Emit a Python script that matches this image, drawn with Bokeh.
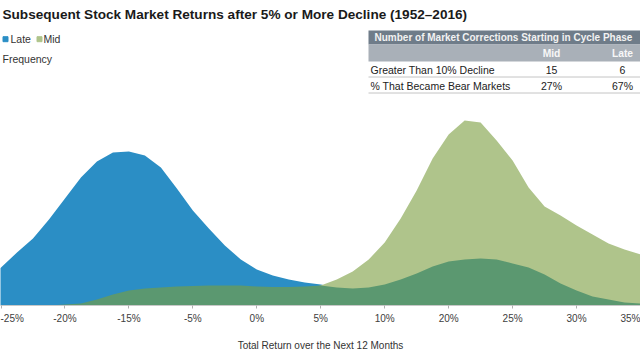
from bokeh.plotting import figure
from bokeh.models import Range1d, FixedTicker, Label
from bokeh.embed import file_html
from bokeh.resources import INLINE

# ---------------- data ----------------
tick_labels = ["-25%", "-20%", "-15%", "-5%", "0%", "5%", "10%", "20%", "25%", "30%", "35%"]

# positions along the return axis (in tick-slot units)
positions = [-0.25, 0.0, 0.25, 0.5, 0.75, 1.0, 1.25, 1.5, 1.75, 2.0, 2.25, 2.5, 2.75,
             3.0, 3.25, 3.5, 3.75, 4.0, 4.25, 4.5, 4.75, 5.0, 5.25, 5.5, 5.75,
             6.0, 6.25, 6.5, 6.75, 7.0, 7.25, 7.5, 7.75, 8.0, 8.25, 8.5, 8.75,
             9.0, 9.25, 9.5, 9.75, 10.0, 10.25]

late_freq = [25, 38, 53, 67, 86, 107, 128, 144, 153, 154, 150, 138, 117, 95, 77, 60,
             46, 36, 30, 26, 23, 21, 18, 14, 10, 7, 5, 3, 2, 1,
             0, 0, 0, 0, 0, 0, 0, 0, 0, 0, 0, 0, 0]

mid_freq = [0, 0, 0, 0, 0, 0, 0, 0, 0, 0, 0, 0,
            1, 2, 3, 4.5, 6, 8, 10, 13, 16, 20, 26, 34, 46, 63, 87, 115, 147, 171,
            185, 183, 165, 145, 118, 99, 90, 80, 71, 62, 56, 51, 47]

early_freq = [0, 0, 0, 0, 0,
              1, 2, 6, 11, 15, 17, 18, 19, 19.5, 20, 20, 20, 19, 18.5, 18.5, 19, 20,
              18, 17, 18, 21, 26, 32, 39, 44, 46, 47, 46, 42, 38, 31, 22, 15, 9, 6, 3, 2, 1]

legend_names = ["Late", "Mid"]
table_title = "Number of Market Corrections Starting in Cycle Phase"
table_cols = ["Mid", "Late"]
table_rows = ["Greater Than 10% Decline", "% That Became Bear Markets"]
table_vals = [["15", "6"], ["27%", "67%"]]

title_text = "Subsequent Stock Market Returns after 5% or More Decline (1952\u20132016)"
x_title = "Total Return over the Next 12 Months"
y_title = "Frequency"

# ---------------- styling ----------------
BLUE = "#2b8ec5"
LIGHT_GREEN = "#afc48b"
DARK_GREEN = "#5b9870"
HEAD_DARK = "#6f7c89"
HEAD_LIGHT = "#a9b0b8"
FONT = "Liberation Sans"

X0, X1 = -0.008, 10.0
W, H, FRAME_H = 640, 360, 305


def X(xr):
    return X0 + xr * (X1 - X0) / W


def Y(yr):
    return FRAME_H - yr


p = figure(width=W, height=H, output_backend="svg", toolbar_location=None,
           x_range=Range1d(X0, X1), y_range=Range1d(0, FRAME_H),
           y_axis_location=None, min_border_left=0, min_border_right=0,
           min_border_top=0, min_border_bottom=H - FRAME_H)
p.outline_line_color = None
p.xgrid.visible = False
p.ygrid.visible = False
p.background_fill_color = "white"
p.border_fill_color = "white"

p.varea(x=positions, y1=0, y2=late_freq, fill_color=BLUE)
p.varea(x=positions, y1=0, y2=mid_freq, fill_color=LIGHT_GREEN)
p.varea(x=positions, y1=0, y2=early_freq, fill_color=DARK_GREEN)

ax = p.xaxis[0]
ax.ticker = FixedTicker(ticks=list(range(len(tick_labels))))
ax.major_label_overrides = {i: lab for i, lab in enumerate(tick_labels)}
ax.major_label_text_font = FONT
ax.major_label_text_font_size = "10px"
ax.major_label_text_color = "#404040"
ax.major_label_standoff = 4
ax.axis_line_color = "#c8c8c8"
ax.major_tick_line_color = "#b0b0b0"
ax.major_tick_out = 3
ax.major_tick_in = 0
ax.minor_tick_line_color = None
ax.axis_label = x_title
ax.axis_label_text_font = FONT
ax.axis_label_text_font_style = "normal"
ax.axis_label_text_font_size = "10px"
ax.axis_label_text_color = "#333333"
ax.axis_label_standoff = 13

# title
p.add_layout(Label(x=X(2), y=Y(14), text=title_text, text_font=FONT,
                   text_font_style="bold", text_font_size="13.6px",
                   text_baseline="middle", text_color="#1a1a1a"))

# legend
p.scatter(x=[X(5), X(39)], y=[Y(38.7), Y(38.7)], marker="square", size=5,
          color=[BLUE, LIGHT_GREEN])
for xr, name in zip([10, 43], legend_names):
    p.add_layout(Label(x=X(xr), y=Y(38.7), text=name, text_font=FONT,
                       text_font_size="10.5px", text_baseline="middle",
                       text_color="#333333"))
p.add_layout(Label(x=X(2), y=Y(58.7), text=y_title, text_font=FONT,
                   text_font_size="10.5px", text_baseline="middle",
                   text_color="#333333"))

# table
p.quad(left=X(368), right=X(660), bottom=Y(44), top=Y(30), fill_color=HEAD_DARK, line_color=None)
p.quad(left=X(368), right=X(660), bottom=Y(61), top=Y(44), fill_color=HEAD_LIGHT, line_color=None)
for yr in [76.5, 92.5]:
    p.segment(x0=X(368), x1=X(660), y0=Y(yr), y1=Y(yr), line_color="#c4c4c4", line_width=1)

p.add_layout(Label(x=X(374), y=Y(37), text=table_title, text_font=FONT,
                   text_font_style="bold", text_font_size="10px",
                   text_baseline="middle", text_color="#f2f2f2"))
col_x = [551, 622]
for cx, cname in zip(col_x, table_cols):
    p.add_layout(Label(x=X(cx), y=Y(52.5), text=cname, text_font=FONT,
                       text_font_style="bold", text_font_size="10.3px",
                       text_align="center", text_baseline="middle", text_color="#f7f7f7"))
row_y = [69, 85.5]
for ry, rname, vals in zip(row_y, table_rows, table_vals):
    p.add_layout(Label(x=X(370), y=Y(ry), text=rname, text_font=FONT,
                       text_font_size="10.5px", text_baseline="middle", text_color="#222222"))
    for cx, v in zip(col_x, vals):
        p.add_layout(Label(x=X(cx), y=Y(ry), text=v, text_font=FONT,
                           text_font_size="10.5px", text_align="center",
                           text_baseline="middle", text_color="#222222"))

open("out.html", "w").write(file_html(p, INLINE, "Subsequent Stock Market Returns"))
